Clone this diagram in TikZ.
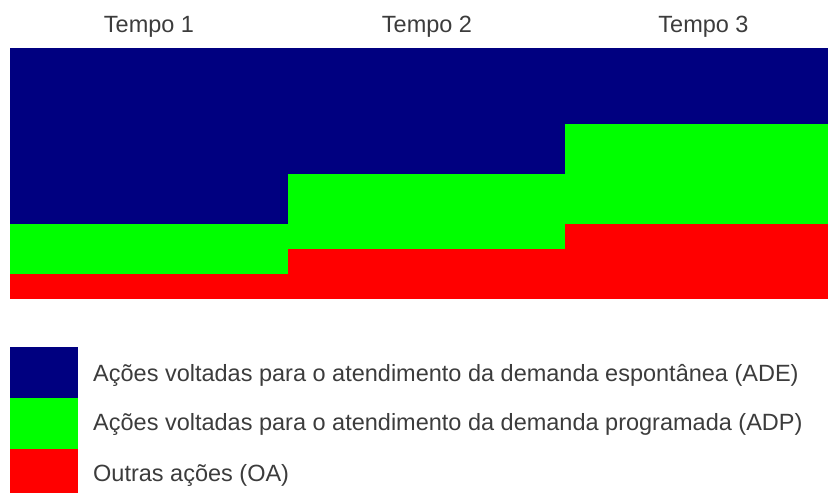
\documentclass[tikz,border=0pt]{standalone}
\usepackage{fontspec}
\setmainfont{Liberation Sans}
\definecolor{ade}{RGB}{0,0,128}
\definecolor{adp}{RGB}{0,255,0}
\definecolor{oa}{RGB}{255,0,0}
\definecolor{txt}{RGB}{60,60,60}
\begin{document}
\begin{tikzpicture}[x=1pt,y=-1pt,
  lbl/.style={text=txt,font=\fontsize{23.5}{28}\selectfont,inner sep=0pt},
  head/.style={lbl,anchor=base},
  leg/.style={lbl,anchor=base west}]
\useasboundingbox (0,0) rectangle (828,493);
% column 1
\fill[ade] (10,48) rectangle (288.5,223.5);
\fill[adp] (10,223.5) rectangle (288.5,273.5);
\fill[oa]  (10,273.5) rectangle (288.5,298.5);
% column 2
\fill[ade] (288,48) rectangle (565.5,173.5);
\fill[adp] (288,173.5) rectangle (565.5,248.5);
\fill[oa]  (288,248.5) rectangle (565.5,298.5);
% column 3
\fill[ade] (565,48) rectangle (828,123.5);
\fill[adp] (565,123.5) rectangle (828,223.5);
\fill[oa]  (565,223.5) rectangle (828,298.5);
% headers
\node[head] (t1) at (149,32.3) {Tempo 1};
\node[head] (t2) at (427,32.3) {Tempo 2};
\node[head] (t3) at (703.5,32.3) {Tempo 3};
% legend
\fill[ade] (10,347) rectangle (78,398);
\fill[adp] (10,398) rectangle (78,449);
\fill[oa]  (10,449) rectangle (78,493);
\node[leg] (l1) at (93,381.7) {Ações voltadas para o atendimento da demanda espontânea (ADE)};
\node[leg] (l2) at (93,430) {Ações voltadas para o atendimento da demanda programada (ADP)};
\node[leg] (l3) at (93,481.7) {Outras ações (OA)};
\end{tikzpicture}
\end{document}
